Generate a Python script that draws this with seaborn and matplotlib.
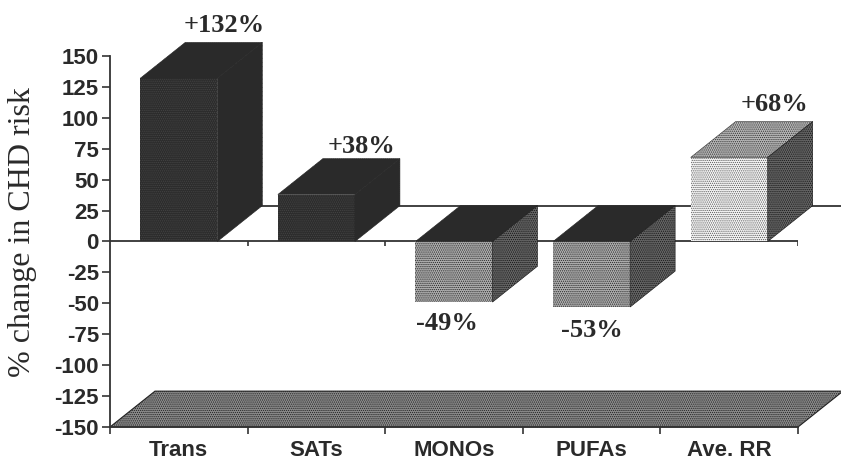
import matplotlib
matplotlib.use('Agg')
import matplotlib.pyplot as plt
import seaborn as sns
import pandas as pd
from matplotlib.patches import Polygon

categories = ['Trans', 'SATs', 'MONOs', 'PUFAs', 'Ave. RR']
change = [132, 38, -49, -53, 68]
value_labels = ['+132%', '+38%', '-49%', '-53%', '+68%']
y_ticks = list(range(-150, 151, 25))
y_tick_labels = [str(t) for t in y_ticks]

front_colors = ['#2c2c2c', '#2c2c2c', '#b0b0b0', '#b0b0b0', '#f6f6f6']
top_colors = ['#2a2a2a', '#2a2a2a', '#2a2a2a', '#2a2a2a', '#b8b8b8']
side_colors = ['#2a2a2a', '#2a2a2a', '#666666', '#666666', '#666666']
front_dots = ['#444444', '#444444', '#262626', '#262626', '#5a5a5a']
top_dots = ['#2a2a2a', '#2a2a2a', '#2a2a2a', '#2a2a2a', '#333333']
side_dots = ['#2a2a2a', '#2a2a2a', '#161616', '#161616', '#161616']

# label nudges in data units
label_dx = [0.0, 0.0, -0.05, 0.0, 0.0]
label_dy = [14, 10, -17, -19, 14]

# depth of the fake 3d, in data units
dx = 0.327
dy = 29
dots = '........'

sns.set_theme(style='white')
plt.rcParams['hatch.linewidth'] = 0.6

df = pd.DataFrame({'cat': categories, 'change': change})

fig = plt.figure(figsize=(8.41, 4.59), dpi=100)
ax = fig.add_axes([110 / 841, 1 - 427 / 459, 688 / 841, 371 / 459])

sns.barplot(data=df, x='cat', y='change', hue='cat', palette=front_colors,
            legend=False, width=0.56, saturation=1, ax=ax, zorder=4)

ax.set_xlim(-0.5, 4.5)
ax.set_ylim(-150, 150)

# floor and back wall
floor = Polygon([(-0.5, -150), (4.5, -150), (4.5 + dx, -150 + dy), (-0.5 + dx, -150 + dy)],
                facecolor='#8c8c8c', edgecolor='#222222', hatch=dots, lw=0.8,
                clip_on=False, zorder=1)
ax.add_patch(floor)
ax.plot([-0.5 + dx, 4.5 + dx], [dy, dy], color='#333333', lw=1.3, clip_on=False, zorder=2)
ax.axhline(0, color='#333333', lw=1.3, zorder=3)
ax.vlines([0.5, 1.5, 2.5, 3.5, 4.5], -4, 0, color='#333333', lw=1.2, zorder=3)

for i, bar in enumerate(ax.patches[:len(categories)]):
    x0 = bar.get_x()
    x1 = x0 + bar.get_width()
    val = change[i]
    bar.set_edgecolor(front_dots[i])
    bar.set_hatch(dots)
    bar.set_linewidth(0)
    hi = max(val, 0)
    lo = min(val, 0)
    top = [(x0, hi), (x1, hi), (x1 + dx, hi + dy), (x0 + dx, hi + dy)]
    side = [(x1, lo), (x1 + dx, lo + dy), (x1 + dx, hi + dy), (x1, hi)]
    ax.add_patch(Polygon(top, facecolor=top_colors[i], edgecolor=top_dots[i],
                         hatch=dots, lw=0.4, clip_on=False, zorder=4))
    ax.add_patch(Polygon(side, facecolor=side_colors[i], edgecolor=side_dots[i],
                         hatch=dots, lw=0.4, clip_on=False, zorder=4))
    if val > 0:
        xt = i + dx + label_dx[i]
        yt = hi + dy + label_dy[i]
    else:
        xt = i + label_dx[i]
        yt = lo + label_dy[i]
    ax.text(xt, yt, value_labels[i], ha='center', va='center', family='Liberation Serif',
            fontweight='bold', fontsize=19, color='#2a2a2a', clip_on=False, zorder=5)

sns.despine(ax=ax, top=True, right=True)
for s in ['left', 'bottom']:
    ax.spines[s].set_color('#333333')
    ax.spines[s].set_linewidth(1.3)
    ax.spines[s].set_zorder(6)

ax.set_yticks(y_ticks)
ax.set_yticklabels(y_tick_labels)
ax.set_xticks(range(5))
ax.set_xticks([-0.5, 0.5, 1.5, 2.5, 3.5, 4.5], minor=True)
ax.tick_params(axis='x', which='major', length=0, pad=9)
ax.tick_params(axis='x', which='minor', length=5, width=1.2, color='#333333', direction='out', bottom=True)
ax.tick_params(axis='y', length=6, width=1.2, color='#333333', direction='out', left=True, pad=2)
for lab in ax.get_xticklabels() + ax.get_yticklabels():
    lab.set_family('Liberation Sans')
    lab.set_fontweight('bold')
    lab.set_fontsize(16)
    lab.set_color('#2a2a2a')

ax.set_xlabel('')
ax.set_ylabel('')
fig.text(23 / 841, 1 - 232 / 459, '% change in CHD risk', rotation=90, ha='center', va='center',
         family='Liberation Serif', fontsize=23, color='#2a2a2a')

fig.savefig('out.png', dpi=100)
